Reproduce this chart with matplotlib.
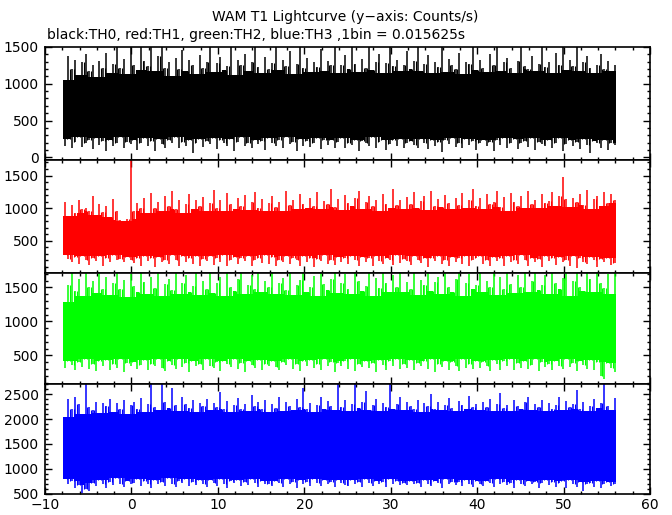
import numpy as np
import matplotlib
matplotlib.use("Agg")
import matplotlib.pyplot as plt
from matplotlib.ticker import MultipleLocator

plt.rcParams["font.family"] = ["DejaVu Sans"]

# light curve, binned to 0.4 s for drawing (upper / lower envelope per bin)
T_START = -7.9
BIN = 0.4

th0_hi = [1050, 1380, 1200, 1330, 1120, 1290, 1400, 1180, 1250, 1090, 1310, 1220, 1420, 1150, 1270, 1500, 1210, 1340, 1130, 1500,
          1260, 1190, 1500, 1310, 1240, 1500, 1170, 1380, 1500, 1220, 1290, 1110, 1350, 1200, 1460, 1180, 1320, 1250, 1130, 1390,
          1210, 1300, 1500, 1160, 1280, 1370, 1190, 1240, 1500, 1120, 1330, 1260, 1410, 1170, 1290, 1500, 1230, 1150, 1360, 1200,
          1280, 1500, 1190, 1320, 1240, 1440, 1130, 1270, 1500, 1210, 1350, 1160, 1290, 1230, 1470, 1180, 1310, 1260, 1500, 1140,
          1250, 1390, 1200, 1500, 1270, 1160, 1340, 1220, 1500, 1190, 1300, 1410, 1150, 1280, 1500, 1240, 1330, 1170, 1260, 1450,
          1200, 1310, 1500, 1180, 1270, 1390, 1140, 1290, 1230, 1500, 1160, 1340, 1250, 1200, 1420, 1130, 1300, 1270, 1500, 1190,
          1330, 1220, 1160, 1400, 1260, 1500, 1180, 1290, 1350, 1210, 1140, 1310, 1500, 1240, 1200, 1380, 1170, 1270, 1500, 1230,
          1300, 1150, 1420, 1260, 1500, 1190, 1330, 1240, 1500, 1170, 1290, 1380, 1210, 1140, 1260, 1400, 1200, 1310, 1180, 1250]
th0_lo = [160, 250, 120, 210, 280, 140, 190, 230, 110, 260, 170, 220, 90, 240, 150, 200, 270, 130, 210, 180,
          240, 100, 200, 260, 150, 220, 80, 250, 180, 130, 230, 190, 270, 120, 210, 160, 240, 60, 200, 250,
          140, 220, 180, 260, 110, 230, 190, 150, 250, 90, 210, 270, 160, 200, 130, 240, 180, 220, 100, 260,
          190, 150, 230, 120, 270, 180, 210, 90, 250, 160, 220, 140, 200, 260, 110, 230, 170, 240, 130, 210,
          260, 120, 200, 170, 240, 80, 220, 190, 150, 270, 130, 210, 240, 100, 180, 230, 160, 250, 120, 200,
          220, 170, 130, 250, 190, 110, 240, 160, 210, 70, 230, 180, 260, 140, 200, 120, 250, 170, 220, 100,
          190, 240, 150, 210, 80, 230, 170, 260, 130, 200, 250, 110, 190, 220, 140, 260, 100, 210, 180, 150,
          230, 120, 200, 260, 90, 180, 240, 150, 210, 110, 250, 170, 60, 220, 190, 130, 240, 100, 200, 170]

th1_hi = [1100, 880, 1050, 920, 1130, 980, 1010, 950, 1180, 900, 1060, 940, 1030, 870, 1140, 960, 820, 800, 830, 1740,
          950, 1080, 1000, 1150, 920, 1230, 1010, 1090, 960, 1190, 1040, 1260, 980, 1120, 930, 1070, 1210, 990, 1130, 1040,
          1170, 960, 1080, 1280, 1000, 1120, 950, 1230, 1060, 990, 1150, 1040, 1200, 970, 1090, 1250, 1010, 1140, 960, 1080,
          1190, 1020, 1100, 960, 1270, 1050, 1130, 990, 1210, 1070, 1000, 1160, 1040, 1240, 980, 1110, 1060, 1300, 1020, 1140,
          970, 1200, 1080, 1030, 1150, 1260, 990, 1090, 1180, 1040, 1120, 960, 1220, 1070, 1010, 1290, 1050, 1130, 980, 1170,
          1060, 1240, 1000, 1110, 1180, 970, 1270, 1040, 1140, 1020, 1200, 1080, 990, 1160, 1050, 1230, 1000, 1120, 1290, 1030,
          1150, 990, 1210, 1070, 1100, 1260, 1020, 1170, 960, 1230, 1090, 1040, 1190, 1010, 1270, 1060, 1130, 1000, 1220, 1080,
          1110, 1250, 1030, 1180, 1480, 1140, 1020, 1160, 1100, 1210, 1050, 1280, 990, 1140, 1190, 1040, 1250, 1080, 1220, 1130]
th1_lo = [290, 220, 180, 250, 150, 270, 200, 130, 240, 190, 260, 110, 230, 170, 280, 210, 220, 180, 250, 210,
          160, 240, 120, 270, 190, 230, 100, 250, 170, 210, 140, 280, 200, 120, 260, 180, 230, 150, 270, 110,
          220, 190, 260, 130, 240, 170, 280, 110, 210, 250, 150, 230, 190, 270, 120, 200, 240, 160, 280, 140,
          250, 110, 210, 180, 270, 140, 230, 200, 120, 260, 170, 240, 100, 220, 190, 280, 150, 210, 130, 250,
          180, 240, 140, 270, 200, 120, 250, 170, 230, 110, 260, 190, 150, 240, 210, 130, 280, 160, 220, 190,
          130, 260, 210, 160, 240, 100, 230, 190, 270, 150, 210, 120, 250, 180, 230, 140, 260, 110, 200, 240,
          270, 150, 200, 120, 250, 190, 230, 110, 260, 170, 210, 140, 280, 200, 120, 240, 180, 220, 100, 260,
          190, 230, 130, 250, 170, 210, 120, 260, 90, 230, 180, 140, 250, 200, 100, 220, 170, 240, 130, 160]

th2_hi = [1280, 1540, 1720, 1450, 1620, 1380, 1720, 1500, 1590, 1420, 1720, 1480, 1650, 1390, 1560, 1720, 1470, 1610, 1360, 1700,
          1520, 1430, 1720, 1580, 1400, 1660, 1490, 1720, 1370, 1550, 1630, 1460, 1720, 1410, 1570, 1690, 1440, 1520, 1720, 1390,
          1600, 1480, 1720, 1420, 1560, 1650, 1380, 1720, 1510, 1450, 1620, 1720, 1400, 1540, 1680, 1470, 1720, 1430, 1590, 1500,
          1720, 1410, 1570, 1640, 1460, 1720, 1390, 1530, 1610, 1720, 1440, 1500, 1670, 1380, 1720, 1550, 1460, 1630, 1720, 1420,
          1560, 1700, 1480, 1400, 1720, 1590, 1450, 1520, 1720, 1380, 1640, 1490, 1720, 1560, 1430, 1680, 1510, 1720, 1440, 1580,
          1470, 1720, 1390, 1610, 1530, 1720, 1450, 1580, 1660, 1410, 1720, 1500, 1440, 1620, 1720, 1380, 1560, 1700, 1470, 1540,
          1720, 1430, 1590, 1510, 1720, 1390, 1650, 1480, 1720, 1550, 1420, 1690, 1500, 1720, 1440, 1600, 1720, 1460, 1530, 1680,
          1410, 1720, 1560, 1470, 1640, 1720, 1380, 1590, 1720, 1500, 1450, 1720, 1620, 1430, 1720, 1560, 1490, 1700, 1410, 1720]
th2_lo = [310, 420, 360, 280, 400, 330, 450, 300, 380, 270, 410, 350, 430, 290, 370, 320, 440, 260, 390, 340,
          400, 300, 360, 430, 280, 380, 340, 450, 310, 270, 420, 360, 300, 440, 330, 390, 250, 410, 350, 380,
          290, 440, 350, 310, 400, 270, 420, 370, 330, 450, 300, 390, 260, 410, 360, 320, 430, 280, 380, 340,
          420, 330, 280, 400, 360, 450, 300, 380, 270, 410, 340, 430, 310, 370, 290, 440, 350, 400, 260, 390,
          350, 410, 300, 440, 270, 380, 330, 420, 310, 390, 250, 430, 360, 290, 410, 340, 450, 300, 380, 320,
          430, 280, 390, 350, 410, 300, 440, 260, 370, 330, 420, 290, 400, 350, 270, 440, 320, 380, 300, 410,
          310, 400, 340, 270, 430, 370, 290, 410, 350, 450, 280, 390, 320, 420, 300, 360, 440, 270, 400, 330,
          380, 290, 420, 350, 300, 440, 330, 390, 270, 410, 360, 300, 430, 280, 400, 200, 150, 390, 310, 250]

th3_hi = [2050, 2400, 2200, 2450, 2300, 2100, 2700, 2250, 2180, 2350, 2120, 2330, 2260, 2400, 2150, 2320, 2200, 2380, 2100, 2280,
          2350, 2200, 2420, 2150, 2300, 2720, 2250, 2180, 2720, 2350, 2220, 2620, 2280, 2160, 2450, 2300, 2230, 2380, 2140, 2320,
          2260, 2400, 2180, 2330, 2250, 2550, 2200, 2360, 2140, 2290, 2420, 2210, 2310, 2170, 2480, 2260, 2340, 2200, 2390, 2150,
          2300, 2230, 2450, 2160, 2350, 2270, 2190, 2400, 2250, 2620, 2210, 2330, 2150, 2290, 2440, 2200, 2360, 2260, 2180, 2720,
          2240, 2380, 2170, 2300, 2720, 2220, 2340, 2560, 2190, 2290, 2410, 2160, 2330, 2250, 2720, 2200, 2300, 2450, 2180, 2350,
          2270, 2200, 2390, 2150, 2320, 2260, 2500, 2210, 2340, 2180, 2290, 2420, 2230, 2160, 2370, 2280, 2200, 2460, 2250, 2310,
          2180, 2350, 2240, 2400, 2170, 2300, 2520, 2220, 2280, 2160, 2390, 2260, 2200, 2340, 2450, 2190, 2310, 2250, 2380, 2170,
          2330, 2210, 2290, 2450, 2180, 2360, 2240, 2300, 2580, 2200, 2350, 2170, 2270, 2400, 2230, 2330, 2700, 2260, 2190, 2420]
th3_lo = [800, 700, 750, 620, 680, 520, 600, 560, 720, 650, 780, 700, 620, 740, 680, 810, 700, 640, 760, 690,
          720, 800, 650, 760, 700, 620, 780, 690, 740, 660, 820, 700, 630, 760, 710, 790, 650, 730, 680, 770,
          700, 640, 780, 720, 660, 800, 690, 620, 750, 710, 770, 650, 730, 680, 800, 720, 640, 760, 700, 690,
          660, 760, 710, 640, 790, 700, 740, 620, 780, 690, 730, 660, 800, 710, 650, 770, 700, 740, 630, 780,
          720, 680, 650, 770, 700, 740, 630, 790, 710, 660, 760, 690, 730, 640, 800, 700, 750, 670, 720, 680,
          750, 690, 720, 640, 780, 700, 660, 760, 710, 620, 790, 690, 740, 670, 730, 650, 780, 700, 640, 760,
          700, 660, 760, 720, 630, 790, 690, 740, 670, 720, 610, 780, 700, 650, 760, 690, 740, 620, 710, 770,
          680, 740, 640, 710, 760, 620, 780, 690, 640, 730, 560, 690, 720, 640, 760, 610, 700, 730, 650, 690]

colors = ["black", "#ff0000", "#00ff00", "#0000ff"]
ylims = [(-30, 1500), (15, 1745), (86, 1720), (500, 2718)]
# panel boxes in figure pixels (top, bottom)
boxes = [(47, 159.5), (159.5, 272.5), (272.5, 383.5), (383.5, 493.5)]

W, H = 672, 515
fig = plt.figure(figsize=(W / 100, H / 100), dpi=100)

series = [(th0_lo, th0_hi), (th1_lo, th1_hi), (th2_lo, th2_hi), (th3_lo, th3_hi)]
for i, ((lo, hi), c, yl, (top, bot)) in enumerate(zip(series, colors, ylims, boxes)):
    ax = fig.add_axes([45 / W, 1 - bot / H, 605 / W, (bot - top) / H])
    lo = np.asarray(lo, float)
    hi = np.asarray(hi, float)
    n = len(hi)
    t = T_START + BIN * np.arange(n + 1)
    tc = t[:-1] + BIN / 2
    # dense core = running min/max over 5 bins; spikes drawn as thin strokes
    hp = np.pad(hi, 2, mode="edge")
    lp = np.pad(lo, 2, mode="edge")
    core_hi = np.min([hp[k:k + n] for k in range(5)], axis=0)
    core_lo = np.max([lp[k:k + n] for k in range(5)], axis=0)
    ax.fill_between(t, np.append(core_lo, core_lo[-1]), np.append(core_hi, core_hi[-1]),
                    step="post", color=c, lw=0)
    ax.vlines(tc, lo, hi, color=c, lw=1.1)
    ax.vlines(t[1:-1], np.maximum(lo[:-1], lo[1:]), np.minimum(hi[:-1], hi[1:]), color=c, lw=0.8)
    ax.set_xlim(-10, 60)
    ax.set_ylim(*yl)
    ax.xaxis.set_major_locator(MultipleLocator(10))
    ax.xaxis.set_minor_locator(MultipleLocator(2))
    ax.yaxis.set_major_locator(MultipleLocator(500))
    ax.yaxis.set_minor_locator(MultipleLocator(100))
    ax.tick_params(which="both", direction="in", top=True, right=True,
                   width=1.0, labelsize=10)
    ax.tick_params(axis="y", pad=4.5)
    ax.tick_params(axis="x", pad=3.5)
    ax.tick_params(which="major", length=5)
    ax.tick_params(which="minor", length=2.5)
    for s in ax.spines.values():
        s.set_linewidth(1.2)
    if i < 3:
        ax.tick_params(labelbottom=False)

fig.text(345 / W, 1 - 17 / H, "WAM T1 Lightcurve (y\u2212axis: Counts/s)",
         ha="center", va="center", fontsize=10)
fig.text(47 / W, 1 - 35 / H, "black:TH0, red:TH1, green:TH2, blue:TH3 ,1bin = 0.015625s",
         ha="left", va="center", fontsize=10)

fig.savefig("out.png", dpi=100)
